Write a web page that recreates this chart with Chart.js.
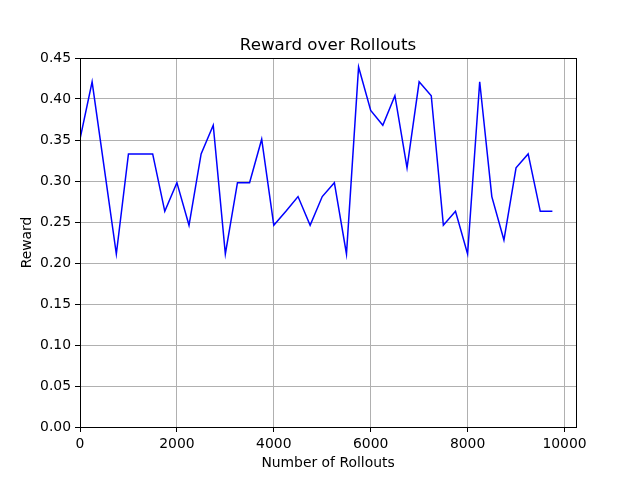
<!DOCTYPE html>
<html>
<head>
<meta charset="utf-8">
<script src="https://cdn.jsdelivr.net/npm/chart.js@4/dist/chart.umd.min.js"></script>
<style>
  html, body { margin: 0; padding: 0; background: #fff; }
  #wrap { width: 640px; height: 480px; }
</style>
</head>
<body>
<div id="wrap"><canvas id="chart" width="640" height="480"></canvas></div>
<script>
const rollouts = [0, 250, 500, 750, 1000, 1250, 1500, 1750, 2000, 2250,
    2500, 2750, 3000, 3250, 3500, 3750, 4000, 4250, 4500, 4750,
    5000, 5250, 5500, 5750, 6000, 6250, 6500, 6750, 7000, 7250,
    7500, 7750, 8000, 8250, 8500, 8750, 9000, 9250, 9500, 9750];
const rewards = [0.351, 0.421, 0.316, 0.211, 0.333, 0.333, 0.333, 0.263, 0.298, 0.246,
    0.333, 0.368, 0.211, 0.298, 0.298, 0.351, 0.246, 0.263, 0.281, 0.246,
    0.281, 0.298, 0.211, 0.439, 0.386, 0.368, 0.404, 0.316, 0.421, 0.404,
    0.246, 0.263, 0.211, 0.421, 0.281, 0.228, 0.316, 0.333, 0.263, 0.263];
const xTicks = [0, 2000, 4000, 6000, 8000, 10000];
const yTickStep = 0.05;
const titleText = "Reward over Rollouts";

// box around the plot area and a title centred over it (matplotlib style)
const frame = {
    id: "frame",
    afterDraw(chart) {
        const a = chart.chartArea;
        const ctx = chart.ctx;
        ctx.save();
        ctx.strokeStyle = "#000";
        ctx.lineWidth = 1;
        ctx.strokeRect(Math.round(a.left) + 0.5, Math.round(a.top) + 0.5,
            Math.round(a.right - a.left), Math.round(a.bottom - a.top));
        ctx.fillStyle = "#000";
        ctx.font = "16.7px 'DejaVu Sans'";
        ctx.textAlign = "center";
        ctx.textBaseline = "alphabetic";
        ctx.fillText(titleText, (a.left + a.right) / 2, a.top - 8);
        ctx.restore();
    }
};

const font = { family: "DejaVu Sans", size: 13.9 };

new Chart(document.getElementById("chart").getContext("2d"), {
    type: "line",
    data: {
        datasets: [{
            data: rollouts.map((x, i) => ({ x, y: rewards[i] })),
            borderColor: "#0000ff",
            borderWidth: 1.5,
            pointRadius: 0,
            tension: 0,
            fill: false
        }]
    },
    options: {
        responsive: false,
        animation: false,
        devicePixelRatio: 1,
        layout: { padding: { left: 0, right: 64, top: 58, bottom: 0 } },
        plugins: {
            legend: { display: false },
            tooltip: { enabled: false },
            title: { display: false }
        },
        scales: {
            x: {
                type: "linear",
                min: 0,
                max: 10237.5,
                afterBuildTicks(scale) {
                    scale.ticks = xTicks.map(value => ({ value }));
                },
                afterFit(scale) { scale.height = 53; },
                ticks: {
                    color: "#000", font, padding: 4, maxRotation: 0, autoSkip: false,
                    callback: v => String(v)
                },
                grid: { color: "#b0b0b0", lineWidth: 1, tickColor: "#000", tickLength: 5 },
                border: { color: "#000" },
                title: {
                    display: true, text: "Number of Rollouts", color: "#000", font,
                    padding: { top: 8, bottom: 8 }
                }
            },
            y: {
                min: 0,
                max: 0.45,
                afterFit(scale) { scale.width = 80; },
                ticks: {
                    stepSize: yTickStep, color: "#000", font, padding: 4,
                    callback: v => v.toFixed(2)
                },
                grid: { color: "#b0b0b0", lineWidth: 1, tickColor: "#000", tickLength: 5 },
                border: { color: "#000" },
                title: {
                    display: true, text: "Reward", color: "#000", font,
                    padding: { top: 19, bottom: 19 }
                }
            }
        }
    },
    plugins: [frame]
});
</script>
</body>
</html>
